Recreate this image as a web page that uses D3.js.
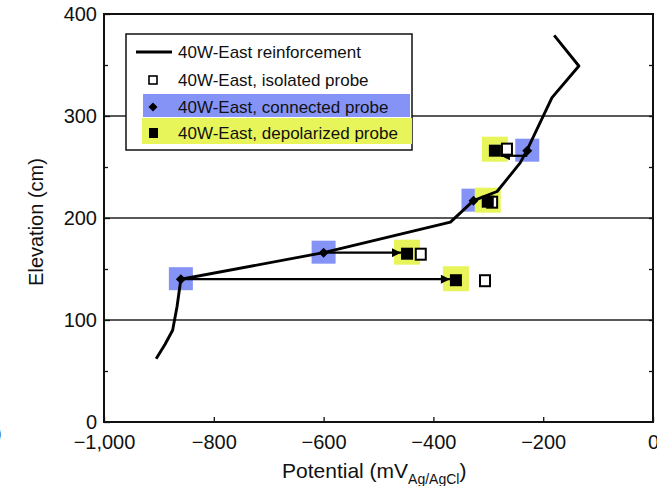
<!DOCTYPE html>
<html><head><meta charset="utf-8">
<script src="https://cdn.jsdelivr.net/npm/d3@7"></script>
<style>body{margin:0;background:#fff}svg{display:block}text{font-family:"Liberation Sans",Arial,sans-serif;fill:#111}</style>
</head><body><svg id="c" width="657" height="486"></svg>
<script>
// Data (Potential mV, Elevation cm)
const reinforcement = [[-905,62],[-889,76],[-875,90],[-867,113],[-860,140],[-600,166],[-369,196],[-327,217],[-284,226],[-242,254],[-229,267],[-184,318],[-135,349],[-180,379]];
const isolatedProbe = [[-306,139],[-423,165],[-293,216],[-266,268]];
const connectedProbe = [[-860,140],[-600,166],[-327,217],[-229,266]];
const depolarizedProbe = [[-359,139],[-448,165],[-301,216],[-288,266]];
const arrows = [{from:-860,to:-370,y:140},{from:-600,to:-459,y:166},{from:-229,to:-277,y:261}];
const xTicks = [-1000,-800,-600,-400,-200,0];
const yTicks = [0,100,200,300,400];
const gridValues = [100,200,300];
const legendLabels = ["40W-East reinforcement","40W-East, isolated probe","40W-East, connected probe","40W-East, depolarized probe"];

const svg = d3.select("#c");
const x = d3.scaleLinear().domain([-1000,0]).range([104,653]);
const y = d3.scaleLinear().domain([0,400]).range([422,14]);
const BLUE = "#8593f6", YELLOW = "#e8f55a";

// grid
svg.append("g").selectAll("line").data(gridValues).join("line")
  .attr("x1",x(-1000)).attr("x2",x(0)).attr("y1",d=>y(d)).attr("y2",d=>y(d))
  .attr("stroke","#222").attr("stroke-width",1.6);

// axes
const fmt = d => d===0 ? "0" : d3.format(",")(d);
const xAxis = svg.append("g").attr("transform",`translate(0,${y(0)})`)
  .call(d3.axisBottom(x).tickValues(xTicks).tickFormat(fmt).tickSize(-5).tickPadding(9));
const yAxis = svg.append("g").attr("transform",`translate(${x(-1000)},0)`)
  .call(d3.axisLeft(y).tickValues(yTicks).tickSize(-6).tickPadding(7));
const yMinor = svg.append("g").attr("transform",`translate(${x(-1000)},0)`)
  .call(d3.axisLeft(y).tickValues([50,150,250,350]).tickFormat("").tickSize(-4));
const yRight = svg.append("g").attr("transform",`translate(${x(0)},0)`)
  .call(d3.axisRight(y).tickValues([50,100,150,200,250,300,350]).tickFormat("").tickSize(-4));
[xAxis,yAxis,yMinor,yRight].forEach(g=>{g.select(".domain").remove();g.selectAll("line").attr("stroke","#111").attr("stroke-width",1.3);});
xAxis.selectAll("text").attr("font-size",20).attr("dy","0.9em").attr("fill","#111");
yAxis.selectAll("text").attr("font-size",20).attr("fill","#111");

// frame
svg.append("rect").attr("x",x(-1000)).attr("y",y(400)).attr("width",x(0)-x(-1000)).attr("height",y(0)-y(400))
  .attr("fill","none").attr("stroke","#111").attr("stroke-width",2);

// highlights
svg.append("g").selectAll("rect").data(connectedProbe).join("rect")
  .attr("x",d=>x(d[0])-12).attr("y",d=>y(d[1])-12).attr("width",24).attr("height",23).attr("fill",BLUE);
svg.append("g").selectAll("rect").data(depolarizedProbe).join("rect")
  .attr("x",d=>x(d[0])-13).attr("y",d=>y(d[1])-14).attr("width",26).attr("height",25).attr("fill",YELLOW);

// reinforcement line
svg.append("path").datum(reinforcement)
  .attr("d",d3.line().x(d=>x(d[0])).y(d=>y(d[1])))
  .attr("fill","none").attr("stroke","#000").attr("stroke-width",2.9).attr("stroke-linejoin","round");

// arrows
svg.append("defs").append("marker").attr("id","ah").attr("viewBox","0 0 10 10").attr("refX",10).attr("refY",5)
  .attr("markerWidth",10).attr("markerHeight",9).attr("markerUnits","userSpaceOnUse").attr("orient","auto")
  .append("path").attr("d","M0,0L10,5L0,10Z").attr("fill","#000");
svg.append("g").selectAll("line").data(arrows).join("line")
  .attr("x1",d=>x(d.from)).attr("x2",d=>x(d.to)).attr("y1",d=>y(d.y)).attr("y2",d=>y(d.y))
  .attr("stroke","#000").attr("stroke-width",2.2).attr("marker-end","url(#ah)");

// markers
svg.append("g").selectAll("rect").data(isolatedProbe).join("rect")
  .attr("x",d=>x(d[0])-5).attr("y",d=>y(d[1])-5).attr("width",10).attr("height",11)
  .attr("fill","#fff").attr("stroke","#000").attr("stroke-width",2);
svg.append("g").selectAll("rect").data(depolarizedProbe).join("rect")
  .attr("x",d=>x(d[0])-6).attr("y",d=>y(d[1])-6).attr("width",12).attr("height",12).attr("fill","#000");
const diamond = d3.symbol().type(d3.symbolSquare).size(50);
svg.append("g").selectAll("path").data(connectedProbe).join("path")
  .attr("transform",d=>`translate(${x(d[0])},${y(d[1])}) rotate(45)`).attr("d",diamond).attr("fill","#000");

// legend
const lg = svg.append("g");
lg.append("rect").attr("x",126).attr("y",34).attr("width",286).attr("height",116).attr("fill","#fff").attr("stroke","#111").attr("stroke-width",1.5);
lg.append("rect").attr("x",143).attr("y",94).attr("width",267).attr("height",23).attr("fill",BLUE);
lg.append("rect").attr("x",142).attr("y",118).attr("width",270).attr("height",26).attr("fill",YELLOW);
const rowY = [52,80,107,133];
lg.append("line").attr("x1",136).attr("x2",172).attr("y1",rowY[0]).attr("y2",rowY[0]).attr("stroke","#000").attr("stroke-width",2.8);
lg.append("rect").attr("x",149).attr("y",rowY[1]-4).attr("width",8).attr("height",8).attr("fill","#fff").attr("stroke","#000").attr("stroke-width",1.6);
lg.append("path").attr("transform",`translate(153,${rowY[2]}) rotate(45)`).attr("d",d3.symbol().type(d3.symbolSquare).size(40)).attr("fill","#000");
lg.append("rect").attr("x",149).attr("y",rowY[3]-5).attr("width",9).attr("height",10).attr("fill","#000");
lg.selectAll("text.l").data(legendLabels).join("text").attr("class","l")
  .attr("x",178).attr("y",(d,i)=>rowY[i]+6).attr("font-size",17).text(d=>d);

// axis titles
svg.append("text").attr("transform","translate(43,222) rotate(-90)").attr("text-anchor","middle").attr("font-size",20).text("Elevation (cm)");
const xt = svg.append("text").attr("x",282).attr("y",478).attr("font-size",21);
xt.append("tspan").text("Potential (mV");
xt.append("tspan").attr("font-size",14).attr("dy",6).text("Ag/AgCl");
xt.append("tspan").attr("dy",-6).text(")");
// cropped fragment at left edge
svg.append("text").attr("x",-5).attr("y",440).attr("font-size",20).text(")");
</script></body></html>
